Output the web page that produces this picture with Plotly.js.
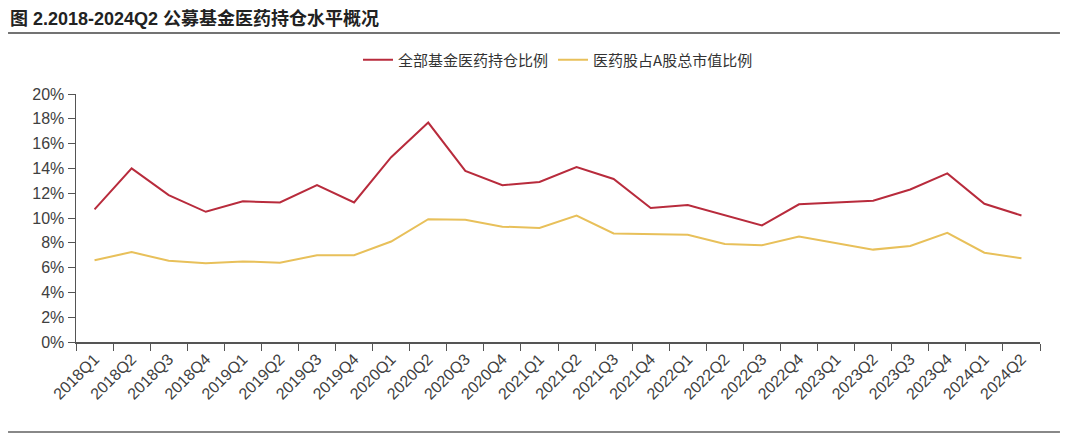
<!DOCTYPE html>
<html>
<head>
<meta charset="utf-8">
<script src="https://cdn.plot.ly/plotly-3.0.1.min.js"></script>
<style>
  body { margin: 0; background: #fff; }
  #plot { width: 1080px; height: 434px; }
</style>
</head>
<body>
<div id="plot"></div>
<script>
// quarters on the x axis
var quarters = [
  "2018Q1", "2018Q2", "2018Q3", "2018Q4",
  "2019Q1", "2019Q2", "2019Q3", "2019Q4",
  "2020Q1", "2020Q2", "2020Q3", "2020Q4",
  "2021Q1", "2021Q2", "2021Q3", "2021Q4",
  "2022Q1", "2022Q2", "2022Q3", "2022Q4",
  "2023Q1", "2023Q2", "2023Q3", "2023Q4",
  "2024Q1", "2024Q2"
];

// 全部基金医药持仓比例 (%)
var fundShare = [
  10.7, 14.0, 11.85, 10.5,
  11.35, 11.25, 12.65, 11.25,
  14.9, 17.7, 13.8, 12.65,
  12.9, 14.1, 13.15, 10.8,
  11.05, 10.25, 9.4, 11.1,
  11.25, 11.4, 12.3, 13.6,
  11.15, 10.2
];

// 医药股占A股总市值比例 (%)
var marketShare = [
  6.6, 7.25, 6.55, 6.35,
  6.5, 6.4, 7.0, 7.0,
  8.1, 9.9, 9.85, 9.3,
  9.2, 10.2, 8.75, 8.7,
  8.65, 7.9, 7.8, 8.5,
  8.0, 7.45, 7.75, 8.8,
  7.2, 6.75
];

var yTicks = [0, 2, 4, 6, 8, 10, 12, 14, 16, 18, 20];
var yTickText = yTicks.map(function (v) { return v + "%"; });

var trace1 = {
  x: quarters,
  y: fundShare,
  type: "scatter",
  mode: "lines",
  name: "全部基金医药持仓比例",
  line: { color: "#B82B3C", width: 2 }
};

var trace2 = {
  x: quarters,
  y: marketShare,
  type: "scatter",
  mode: "lines",
  name: "医药股占A股总市值比例",
  line: { color: "#E8C05A", width: 2 }
};

var layout = {
  width: 1080,
  height: 434,
  margin: { l: 76, r: 40, t: 94, b: 92 },
  paper_bgcolor: "#fff",
  plot_bgcolor: "#fff",
  font: { family: "Liberation Sans, Noto Sans CJK SC, sans-serif", color: "#404040" },
  title: {
    text: "<b>图 2.2018-2024Q2 公募基金医药持仓水平概况</b>",
    x: 10 / 1080,
    xanchor: "left",
    y: 1 - 19 / 434,
    yanchor: "middle",
    font: { size: 18, color: "#222", family: "Liberation Sans, Noto Sans CJK SC, sans-serif" }
  },
  showlegend: true,
  legend: {
    orientation: "h",
    x: 0.5,
    xanchor: "center",
    y: 1.137,
    yanchor: "middle",
    font: { size: 15, color: "#333", family: "Noto Sans CJK SC, sans-serif" },
    itemwidth: 30
  },
  xaxis: {
    type: "category",
    tickson: "boundaries",
    ticks: "outside",
    ticklen: 7,
    tickcolor: "#555",
    tickangle: -45,
    showline: true,
    linecolor: "#555",
    linewidth: 1.5,
    showgrid: false,
    zeroline: false,
    tickfont: { size: 16, color: "#404040" },
    range: [-0.5, 25.5]
  },
  yaxis: {
    range: [0, 20],
    tickvals: yTicks,
    ticktext: yTickText,
    ticks: "outside",
    ticklen: 7,
    tickcolor: "#555",
    showline: true,
    linecolor: "#555",
    linewidth: 1.5,
    showgrid: false,
    zeroline: false,
    tickfont: { size: 16, color: "#404040" }
  },
  shapes: [
    // rule under the title
    {
      type: "line", xref: "paper", yref: "paper",
      x0: -0.0705, x1: 1.0207, y0: 1.246, y1: 1.246,
      line: { color: "#444", width: 1.5 }
    },
    // rule at the bottom
    {
      type: "line", xref: "paper", yref: "paper",
      x0: -0.0705, x1: 1.0207, y0: -0.363, y1: -0.363,
      line: { color: "#888", width: 2 }
    }
  ]
};

Plotly.newPlot("plot", [trace1, trace2], layout, { displayModeBar: false, staticPlot: true });
</script>
</body>
</html>
